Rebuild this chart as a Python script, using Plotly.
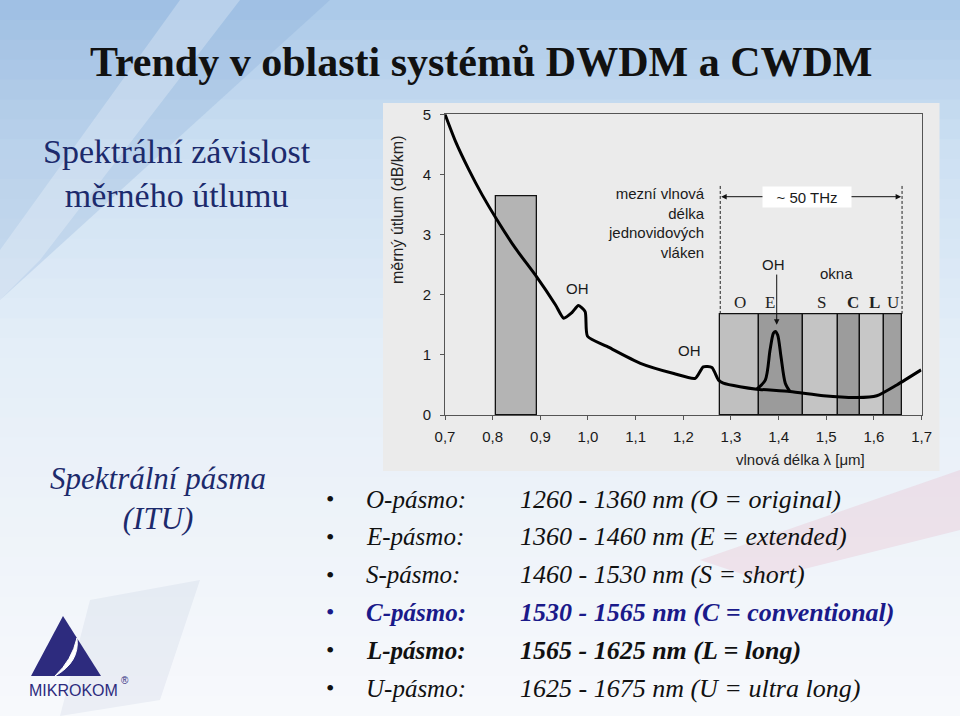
import plotly.graph_objects as go

# ---------------- data ----------------
wavelength = [0.700, 0.722, 0.750, 0.778, 0.808, 0.848, 0.892, 0.932, 0.949, 0.966, 0.980,
              0.994, 0.999, 1.040, 1.110, 1.180, 1.225, 1.242, 1.260, 1.274, 1.284, 1.319,
              1.354, 1.424, 1.494, 1.564, 1.606, 1.648, 1.699]
attenuation = [5.00, 4.55, 4.08, 3.66, 3.26, 2.77, 2.30, 1.83, 1.61, 1.70, 1.82,
               1.72, 1.31, 1.14, 0.86, 0.69, 0.61, 0.80, 0.79, 0.58, 0.53, 0.47,
               0.43, 0.39, 0.32, 0.29, 0.32, 0.50, 0.75]
oh_peak_wavelength = [1.354, 1.372, 1.382, 1.389, 1.393, 1.398, 1.405, 1.414, 1.424]
oh_peak_attenuation = [0.43, 0.58, 1.08, 1.36, 1.39, 1.33, 0.97, 0.53, 0.39]

first_window_edges = [0.808, 0.892]
first_window_top = 3.63

band_names = ["O", "E", "S", "C", "L", "U"]
band_edges = [1.2775, 1.359, 1.452, 1.524, 1.5715, 1.621, 1.659]
band_top = 1.68
band_colors = ["#c0c0c0", "#9b9b9b", "#c4c4c4", "#9c9c9c", "#c7c7c7", "#a0a0a0"]
band_letter_x = [1.318, 1.381, 1.491, 1.556, 1.601, 1.641]
band_letter_bold = [False, False, False, True, True, False]

x_ticks = [0.7, 0.8, 0.9, 1.0, 1.1, 1.2, 1.3, 1.4, 1.5, 1.6, 1.7]
y_ticks = [0, 1, 2, 3, 4, 5]

bullet_labels = ["O-pásmo:", "E-pásmo:", "S-pásmo:", "C-pásmo:", "L-pásmo:", "U-pásmo:"]
bullet_ranges = ["1260 - 1360 nm (O = original)", "1360 - 1460 nm (E = extended)",
                 "1460 - 1530 nm (S = short)", "1530 - 1565 nm (C = conventional)",
                 "1565 - 1625 nm (L = long)", "1625 - 1675 nm (U = ultra long)"]
bullet_bold = [False, False, False, True, True, False]
bullet_color = ["#111111", "#111111", "#111111", "#1a1a8a", "#111111", "#111111"]

W, H = 960, 716
def PX(px):
    return px / W
def PY(py):
    return 1 - py / H

SANS = "Liberation Sans, Arial, sans-serif"
SERIF = "Liberation Serif, Times New Roman, serif"
NAVY = "#1c2a6c"

fig = go.Figure()

# windows as bars
fig.add_trace(go.Bar(
    x=[(first_window_edges[0] + first_window_edges[1]) / 2],
    y=[first_window_top],
    width=[first_window_edges[1] - first_window_edges[0]],
    marker=dict(color="#b4b4b4", line=dict(color="#111", width=1.3)),
    showlegend=False, hoverinfo="skip"))
fig.add_trace(go.Bar(
    x=[(band_edges[i] + band_edges[i + 1]) / 2 for i in range(len(band_names))],
    y=[band_top] * len(band_names),
    width=[band_edges[i + 1] - band_edges[i] for i in range(len(band_names))],
    marker=dict(color=band_colors, line=dict(color="#111", width=1.3)),
    text=band_names, textposition="none",
    showlegend=False, hoverinfo="skip"))

fig.add_trace(go.Scatter(x=wavelength, y=attenuation, mode="lines",
                         line=dict(color="black", width=3, shape="spline", smoothing=0.6),
                         showlegend=False, hoverinfo="skip"))
fig.add_trace(go.Scatter(x=oh_peak_wavelength, y=oh_peak_attenuation, mode="lines",
                         line=dict(color="black", width=3, shape="spline", smoothing=0.8),
                         showlegend=False, hoverinfo="skip"))

shapes = []
# background gradient (decoration)
stops = [(0, (170, 200, 232)), (150, (205, 224, 242)), (350, (228, 238, 248)),
         (520, (238, 243, 249)), (716, (247, 249, 252))]
def col_at(y):
    for (y0, c0), (y1, c1) in zip(stops[:-1], stops[1:]):
        if y0 <= y <= y1:
            t = (y - y0) / (y1 - y0)
            return "rgb(%d,%d,%d)" % tuple(round(a + (b - a) * t) for a, b in zip(c0, c1))
    return "rgb(247,249,252)"
nb = 36
for i in range(nb):
    y0 = i * H / nb
    y1 = (i + 1) * H / nb + 1
    shapes.append(dict(type="rect", xref="paper", yref="paper", x0=0, x1=1,
                       y0=max(0, PY(y1)), y1=PY(y0), fillcolor=col_at((y0 + y1) / 2),
                       line=dict(width=0), layer="below"))
def path(pts):
    s = "M %f,%f " % (PX(pts[0][0]), PY(pts[0][1]))
    for p in pts[1:]:
        s += "L %f,%f " % (PX(p[0]), PY(p[1]))
    return s + "Z"
shapes.append(dict(type="path", xref="paper", yref="paper",
                   path=path([(0, 0), (330, 0), (0, 300)]),
                   fillcolor="rgba(120,160,210,0.22)", line=dict(width=0), layer="below"))
shapes.append(dict(type="path", xref="paper", yref="paper",
                   path=path([(180, 0), (240, 0), (40, 260), (0, 300), (0, 250)]),
                   fillcolor="rgba(255,255,255,0.25)", line=dict(width=0), layer="below"))
shapes.append(dict(type="path", xref="paper", yref="paper",
                   path=path([(700, 560), (960, 470), (960, 530), (760, 580)]),
                   fillcolor="rgba(230,170,190,0.25)", line=dict(width=0), layer="below"))
shapes.append(dict(type="path", xref="paper", yref="paper",
                   path=path([(90, 600), (200, 580), (160, 700), (60, 716)]),
                   fillcolor="rgba(150,165,200,0.12)", line=dict(width=0), layer="below"))
# grey chart panel
shapes.append(dict(type="rect", xref="paper", yref="paper", x0=PX(383), x1=PX(939.5),
                   y0=PY(471), y1=PY(103), fillcolor="#ebebeb", line=dict(width=0), layer="below"))
# dashed limits
for xv in [band_edges[0], band_edges[-1]]:
    shapes.append(dict(type="line", xref="x", yref="y", x0=xv, x1=xv, y0=band_top, y1=3.83,
                       line=dict(color="#222", width=1, dash="3px,2px")))
# logo
shapes.append(dict(type="path", xref="paper", yref="paper",
                   path=path([(63, 616), (31, 676), (101, 676)]),
                   fillcolor="#2d2b7e", line=dict(width=0)))
shapes.append(dict(type="path", xref="paper", yref="paper",
                   path="M %f,%f Q %f,%f %f,%f Q %f,%f %f,%f Z" % (
                       PX(77), PY(638), PX(80), PY(662), PX(55), PY(676),
                       PX(72), PY(660), PX(77), PY(638)),
                   fillcolor="white", line=dict(color="white", width=1)))

ann = []
def pann(text, x, y, size, family, color, xanchor="center", align="center", angle=0):
    return dict(text=text, x=PX(x), y=PY(y), xref="paper", yref="paper", showarrow=False,
                xanchor=xanchor, yanchor="middle", align=align, textangle=angle,
                font=dict(family=family, size=size, color=color))

# title
ann.append(pann("<b>Trendy v oblasti systémů DWDM a CWDM</b>", 481, 62, 42, SERIF, "#111"))
ann.append(pann("Spektrální závislost<br>měrného útlumu", 177, 173, 34, SERIF, NAVY))
ann.append(pann("<i>Spektrální pásma<br>(ITU)</i>", 158, 498, 31, SERIF, NAVY))
# bullets
by0, bdy = 499, 37.8
for i in range(len(bullet_labels)):
    yy = by0 + i * bdy
    lab = bullet_labels[i]
    rng = bullet_ranges[i]
    if bullet_bold[i]:
        lab = "<b>" + lab + "</b>"
        rng = "<b>" + rng + "</b>"
    ann.append(pann("•", 330, yy, 24, SERIF, bullet_color[i]))
    ann.append(pann("<i>" + lab + "</i>", 364, yy, 25, SERIF, bullet_color[i], xanchor="left"))
    ann.append(pann("<i>" + rng + "</i>", 518, yy, 26, SERIF, bullet_color[i], xanchor="left"))
# logo text
ann.append(pann("MIKROKOM", 73, 690, 16, SANS, "#2d2b7e"))
ann.append(pann("®", 119, 680, 10, SANS, "#2d2b7e", xanchor="left"))
# axis titles
ann.append(pann("měrný útlum (dB/km)", 398, 210, 16, SANS, "#222", angle=-90))
ann.append(pann("vlnová délka λ [μm]", 800, 459, 15, SANS, "#222"))
# chart labels
cf = dict(family=SANS, size=15, color="#1a1a1a")
ann.append(dict(text="OH", x=0.979, y=2.10, xref="x", yref="y", showarrow=False, font=cf))
ann.append(dict(text="OH", x=1.212, y=1.07, xref="x", yref="y", showarrow=False, font=cf))
ann.append(dict(text="OH", x=1.390, y=2.51, xref="x", yref="y", showarrow=False, font=cf))
ann.append(dict(text="okna", x=1.522, y=2.36, xref="x", yref="y", showarrow=False, font=cf))
ann.append(dict(text="mezní vlnová<br>délka<br>jednovidových<br>vláken", x=1.2495, y=3.19,
                xref="x", yref="y", xanchor="right", yanchor="middle", align="right",
                showarrow=False, font=cf))
ann.append(dict(text="", x=1.396, y=1.50, ax=1.396, ay=2.36, xref="x", yref="y",
                axref="x", ayref="y", showarrow=True, arrowhead=2, arrowsize=1.1,
                arrowwidth=1, arrowcolor="#111"))
ann.append(dict(text="", x=band_edges[0] + 0.002, y=3.63, ax=1.46, ay=3.63, xref="x", yref="y",
                axref="x", ayref="y", showarrow=True, arrowhead=2, arrowsize=1.1,
                arrowwidth=1, arrowcolor="#111"))
ann.append(dict(text="", x=band_edges[-1] - 0.002, y=3.63, ax=1.46, ay=3.63, xref="x", yref="y",
                axref="x", ayref="y", showarrow=True, arrowhead=2, arrowsize=1.1,
                arrowwidth=1, arrowcolor="#111"))
ann.append(dict(text="~ 50 THz", x=1.4605, y=3.63, xref="x", yref="y", showarrow=False,
                bgcolor="white", width=86, height=18, borderpad=1, font=cf))
for name, xv, b in zip(band_names, band_letter_x, band_letter_bold):
    ann.append(dict(text=("<b>%s</b>" % name) if b else name, x=xv, y=1.87, xref="x", yref="y",
                    showarrow=False, font=dict(family=SERIF, size=17, color="#222")))

fig.update_layout(
    width=W, height=H, margin=dict(l=0, r=0, t=0, b=0, pad=0, autoexpand=False),
    paper_bgcolor="#f4f7fb", plot_bgcolor="rgba(0,0,0,0)",
    barmode="overlay", bargap=0, separators=", ",
    shapes=shapes, annotations=ann,
    xaxis=dict(domain=[445 / W, 921.6 / W], range=[0.7, 1.7], tickvals=x_ticks,
               tickformat=".1f", ticks="outside", ticklen=4, tickcolor="#555",
               showline=True, linecolor="#555", linewidth=1, mirror=True,
               showgrid=False, zeroline=False, ticklabelstandoff=4,
               tickfont=dict(family=SANS, size=15, color="#1a1a1a")),
    yaxis=dict(domain=[1 - 415 / H, 1 - 114.3 / H], range=[0, 5], tickvals=y_ticks,
               ticks="outside", ticklen=4, tickcolor="#555",
               showline=True, linecolor="#555", linewidth=1, mirror=True,
               showgrid=False, zeroline=False, ticklabelstandoff=6,
               tickfont=dict(family=SANS, size=15, color="#1a1a1a")),
)

fig.write_html("out.html")
